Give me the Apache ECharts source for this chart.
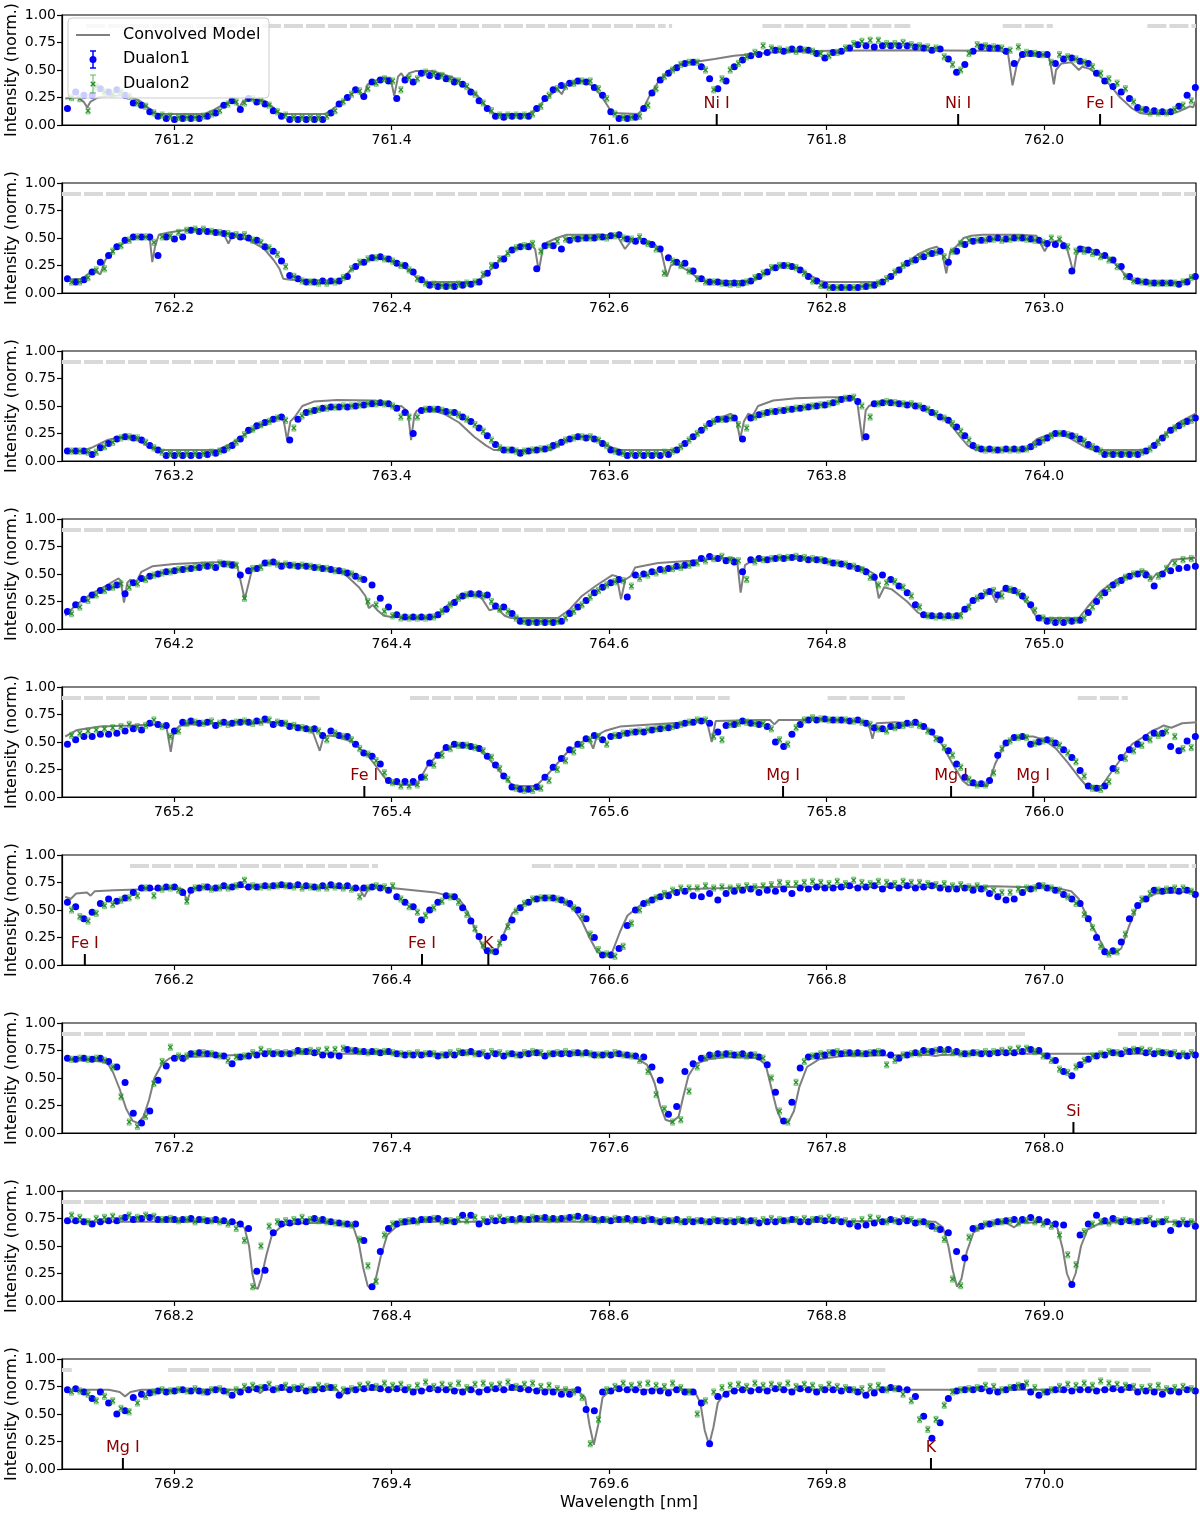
<!DOCTYPE html>
<html><head><meta charset="utf-8">
<script src="https://cdn.jsdelivr.net/npm/echarts@6/dist/echarts.min.js"></script>
<style>html,body{margin:0;padding:0;background:#fff}#c{width:1200px;height:1514px}</style>
</head><body><div id="c"></div>
<script>
// ---------- DATA ----------
// panel start wavelengths (nm)
const panelStart = [761.1, 762.1, 763.1, 764.1, 765.1, 766.1, 767.1, 768.1, 769.1];
// tick labels per panel
const xTicks = [
  [761.2,761.4,761.6,761.8,762.0],[762.2,762.4,762.6,762.8,763.0],[763.2,763.4,763.6,763.8,764.0],
  [764.2,764.4,764.6,764.8,765.0],[765.2,765.4,765.6,765.8,766.0],[766.2,766.4,766.6,766.8,767.0],
  [767.2,767.4,767.6,767.8,768.0],[768.2,768.4,768.6,768.8,769.0],[769.2,769.4,769.6,769.8,770.0]
];
const yTicks = [0, 0.25, 0.5, 0.75, 1.0];
// pixel grid of the spectra: first sample offset from panel start and sampling step (nm)
const SAMPLE_START = 0.002, SAMPLE_STEP = 0.00757, DUALON2_SHIFT = 0.0038;
const DUALON2_ERR = 0.028;   // typical 1-sigma of Dualon2 (normalized intensity)
const MASK_LEVEL = 0.9;

// Dualon1 intensities (percent), one array per panel
const d1_761 = [15,30,27,27,33,30,32,27,20,18,12,8,6,5,6,6,6,8,11,18,22,14,24,21,19,13,8,5,5,5,5,5,11,19,25,32,26,39,41,40,24,41,39,47,45,44,42,39,37,30,22,15,8,7,8,8,8,15,24,32,36,38,40,39,34,27,12,6,6,7,15,29,41,47,52,56,57,53,42,33,40,53,59,63,64,66,68,67,69,69,68,65,61,66,67,70,73,72,71,72,72,72,72,71,70,68,69,60,48,55,67,71,70,70,67,56,64,65,64,64,56,60,61,58,56,47,40,35,30,24,16,14,13,12,12,17,27,34];
const d1_762 = [13,10,12,19,28,34,42,48,51,51,51,34,51,49,51,57,56,56,55,54,52,51,50,48,42,38,29,16,13,10,10,11,11,11,15,24,28,32,33,31,27,25,19,12,7,6,6,6,7,8,10,18,25,31,39,42,42,22,43,43,40,48,49,50,50,51,52,53,49,47,47,44,40,32,28,27,20,13,10,10,9,9,9,11,15,19,23,25,24,21,15,11,7,5,5,5,5,6,7,10,15,21,27,30,33,36,38,28,38,44,47,48,49,50,49,50,50,49,48,45,44,43,20,40,39,37,34,30,24,15,11,10,9,9,9,8,10,15];
const d1_763 = [9,9,9,6,12,16,20,22,21,19,14,10,5,5,5,5,5,6,7,10,14,20,28,32,35,38,40,19,38,44,46,48,49,49,49,50,51,52,53,52,48,44,25,46,47,47,45,44,40,36,30,23,15,10,10,7,9,10,11,14,17,20,22,21,20,16,10,8,5,5,5,5,5,6,10,16,22,28,34,38,38,39,20,39,42,44,45,46,47,48,49,50,51,53,56,57,54,22,52,53,53,52,51,50,48,44,40,37,31,23,14,11,11,10,11,11,11,13,17,21,25,25,23,20,15,11,6,6,6,6,6,9,14,21,28,32,36,39];
const d1_764 = [16,22,27,31,35,38,40,32,42,46,48,50,52,53,54,55,56,57,56,59,58,49,53,55,60,61,57,58,57,57,56,55,54,53,51,48,45,40,28,20,13,11,11,11,11,13,18,24,30,32,32,31,21,20,14,7,6,6,6,6,7,14,20,26,33,38,42,45,29,49,50,52,54,55,57,58,60,64,66,64,62,61,52,63,64,63,64,64,65,64,63,63,62,60,59,57,55,52,47,49,45,39,33,22,13,12,12,12,12,18,26,30,34,31,37,35,30,22,10,7,6,6,7,8,15,25,33,40,44,48,50,49,39,50,53,55,56,57];
const d1_765 = [48,52,55,55,57,57,58,60,62,61,67,66,65,60,68,69,67,68,65,68,67,68,68,69,71,66,67,64,63,62,62,56,60,56,55,48,40,37,30,15,14,14,14,18,31,38,45,48,47,46,44,37,29,19,9,7,7,9,18,27,35,43,48,53,56,52,55,56,58,59,59,61,62,63,65,67,68,69,67,59,65,66,69,67,66,64,50,46,57,66,70,70,71,70,70,69,70,67,63,62,64,65,67,68,64,59,52,42,30,18,13,12,15,38,49,54,55,48,50,52,49,43,36,24,10,8,10,26,36,43,48,54,58,58,46,42,51,55];
const d1_766 = [57,53,42,48,56,60,58,61,66,70,70,70,71,71,66,68,70,71,70,72,71,73,71,71,72,72,73,72,73,72,71,72,73,72,72,70,70,71,70,68,62,57,53,41,50,57,63,62,52,40,26,13,12,25,41,52,57,60,61,61,59,56,50,42,25,9,9,15,36,50,56,59,62,63,66,67,63,62,65,59,65,67,68,69,66,68,67,69,65,70,69,71,70,70,71,72,70,71,72,69,72,70,72,70,71,72,70,69,69,70,68,69,65,62,59,60,66,69,72,70,68,64,60,56,42,25,12,13,21,42,54,60,68,67,68,67,68,64];
const d1_767 = [68,67,68,67,68,65,60,46,18,9,20,48,61,68,68,72,73,72,71,70,63,69,70,71,72,72,72,72,75,74,73,71,71,70,76,75,74,74,73,74,72,71,71,71,72,70,71,71,73,74,72,70,72,70,72,71,72,73,70,72,72,72,73,73,71,71,71,72,71,70,69,60,48,17,24,56,63,68,71,72,72,71,72,71,69,62,37,11,28,59,69,70,71,73,72,73,73,72,73,73,71,68,71,73,75,74,76,76,74,72,73,72,72,73,73,73,74,76,75,70,66,56,52,62,67,70,71,73,72,74,75,73,72,73,72,70,70,71];
const d1_768 = [73,73,72,70,72,73,73,76,74,75,76,74,74,74,74,75,74,73,74,73,72,70,66,27,28,62,70,71,72,72,75,74,72,71,70,70,55,13,45,66,70,72,73,74,74,75,73,72,78,78,70,72,73,73,74,75,74,75,76,75,75,76,77,76,74,74,73,74,75,74,73,74,72,73,74,72,72,73,72,73,72,72,73,73,71,72,72,73,74,72,72,74,73,73,72,70,68,69,71,72,74,72,73,71,72,68,65,62,45,39,66,68,70,72,73,74,74,76,74,72,70,69,15,60,70,78,73,75,72,73,72,73,70,72,64,70,70,68];
const d1_769 = [72,73,70,64,70,60,50,53,65,68,69,71,70,71,72,71,71,70,72,71,67,70,72,73,74,72,74,72,73,71,72,73,74,67,71,72,73,74,73,72,73,72,70,71,73,72,72,71,70,72,70,72,73,72,74,73,72,71,70,70,68,68,72,54,53,70,71,73,72,72,70,71,71,69,72,70,70,60,23,66,68,71,72,71,72,71,73,72,70,73,72,70,72,72,71,72,70,67,69,72,74,73,72,66,48,28,42,64,71,72,72,73,71,70,72,74,75,70,67,70,72,72,71,72,72,71,72,73,72,74,70,71,70,68,71,70,72,71];

// Dualon2 intensities (percent)
const d2_761 = [25,24,13,35,30,28,30,26,20,17,11,9,8,7,7,7,8,10,13,19,21,20,24,22,18,12,9,7,7,7,7,8,13,21,28,31,33,38,42,40,32,43,42,48,47,45,42,40,35,28,20,13,9,9,9,9,10,17,27,33,35,38,40,40,33,24,10,7,7,8,18,33,44,50,55,57,57,50,32,42,50,56,62,66,72,70,69,68,67,68,67,65,63,66,70,74,76,77,77,74,74,75,73,72,71,70,62,55,50,65,73,72,71,70,68,71,66,65,64,57,64,62,60,57,53,47,42,38,33,21,14,11,11,11,14,18,22,30];
const d2_762 = [10,10,14,21,22,38,43,48,51,51,46,51,52,55,57,58,58,56,55,54,53,53,48,46,41,35,24,15,11,10,9,9,10,14,22,28,31,32,31,29,25,21,13,9,8,7,7,8,9,10,17,25,31,36,41,43,45,38,44,47,49,50,50,50,51,50,52,50,49,51,45,40,18,29,25,20,13,10,10,9,8,8,10,14,18,23,25,25,23,18,11,7,5,5,5,5,6,7,9,13,19,25,29,33,36,37,33,38,45,48,48,48,49,48,49,50,49,48,46,50,49,42,38,38,36,33,30,24,15,11,10,9,9,9,9,10,14,17];
const d2_763 = [9,9,8,8,13,17,21,22,21,17,12,8,7,7,7,7,7,8,9,12,17,24,29,33,36,39,37,30,41,45,47,48,49,50,50,51,52,52,52,50,40,40,40,47,47,46,44,42,38,33,27,19,12,10,9,9,10,11,12,15,19,21,22,22,19,14,9,7,7,7,7,7,8,9,13,19,25,31,36,38,39,33,30,40,43,45,46,47,48,49,50,51,52,54,57,58,50,40,52,54,53,52,52,50,47,43,39,34,27,19,12,10,10,10,10,10,11,15,19,23,25,24,22,18,13,9,7,7,7,7,8,11,17,24,30,34,37,40];
const d2_764 = [14,20,26,31,35,38,41,38,41,45,49,51,52,54,55,56,58,58,60,59,58,28,55,56,60,59,59,58,58,57,56,55,53,52,50,46,25,22,16,12,10,10,10,10,11,16,22,28,31,31,30,25,18,16,10,7,7,7,7,7,10,16,22,29,35,40,43,44,39,46,49,51,53,55,56,58,60,62,64,66,63,62,45,61,63,64,65,65,66,65,64,63,61,60,59,57,54,47,40,42,43,38,30,20,12,11,11,11,12,20,28,33,35,30,36,33,27,17,10,8,8,8,8,10,20,30,37,42,47,50,52,46,48,55,60,63,64,65];
const d2_765 = [56,58,60,61,62,63,64,66,64,65,70,64,55,60,67,68,67,69,67,66,68,69,67,68,70,68,67,65,63,61,60,52,58,55,52,44,39,33,22,13,10,10,11,18,29,38,44,47,47,45,42,36,26,16,8,6,6,8,15,25,33,41,47,52,55,48,56,58,59,60,61,62,63,64,66,68,70,70,55,52,66,67,68,67,67,62,52,48,63,70,72,71,70,70,70,69,68,66,62,60,63,65,66,65,60,53,45,38,27,16,11,11,22,44,51,54,54,49,51,51,47,40,32,19,8,7,14,24,35,42,47,52,56,60,55,44,45,50];
const d2_766 = [50,44,40,47,54,55,59,61,63,70,63,69,70,68,58,70,71,69,70,70,72,77,72,71,71,72,72,71,70,71,70,70,71,70,69,62,70,72,71,72,60,53,48,45,52,58,62,57,46,33,18,13,20,35,49,56,60,61,61,60,57,52,44,28,14,10,8,17,38,50,57,61,65,68,70,70,70,72,70,71,70,71,72,71,72,73,75,74,74,75,76,75,74,76,74,77,75,74,76,75,74,76,75,75,74,73,74,72,73,71,72,70,68,66,66,69,70,70,72,70,68,62,56,46,34,17,10,12,28,48,60,65,68,69,70,70,67,66];
const d2_767 = [67,68,67,68,66,60,33,10,6,15,45,65,78,70,70,72,73,72,70,66,69,70,73,76,74,73,73,73,74,75,75,76,76,77,75,74,73,74,74,73,72,72,73,72,72,71,73,74,73,72,73,74,73,72,71,73,74,73,72,73,74,73,72,72,71,72,73,71,70,66,56,35,22,10,12,38,60,68,70,71,72,71,70,71,68,50,20,10,46,65,70,72,73,74,73,72,72,73,74,62,66,71,72,72,74,75,74,73,72,72,73,74,74,75,76,77,77,74,70,66,58,55,60,66,70,72,74,73,75,76,76,75,74,73,73,72,73,74];
const d2_768 = [78,76,72,75,76,77,75,78,76,78,77,74,75,73,74,72,74,73,72,70,66,55,13,50,68,72,73,74,76,74,73,72,71,70,69,56,32,18,60,70,72,73,72,74,75,72,73,74,73,76,74,75,76,74,73,74,76,75,74,74,75,76,74,75,73,74,75,74,73,74,75,73,74,73,72,74,73,72,74,73,73,74,72,73,74,75,74,73,74,75,74,75,76,74,73,72,74,76,75,72,73,75,74,72,70,66,56,20,14,58,66,70,71,72,73,71,73,72,70,68,60,42,33,63,70,72,71,73,74,72,73,75,72,74,71,73,72,70];
const d2_769 = [70,71,68,62,66,62,55,52,60,66,70,72,71,72,71,73,70,72,73,70,72,75,76,74,77,73,76,74,75,72,76,75,74,72,73,76,77,75,78,76,77,74,76,79,75,77,76,78,74,77,78,76,77,79,75,77,78,75,76,73,72,70,65,23,45,72,75,78,76,77,78,76,75,78,74,70,50,62,70,74,76,77,75,78,76,77,76,78,75,77,76,74,77,75,74,72,73,75,76,72,73,68,62,45,36,45,58,70,72,73,74,76,75,72,74,76,78,74,70,72,75,77,76,78,76,80,78,77,76,75,74,75,76,73,74,75,73,75];

// Convolved model: [offset from panel start (nm), intensity]
const m_761 = [[0,0.24],[0.012,0.25],[0.017,0.21],[0.0202,0.16],[0.023,0.21],[0.03,0.25],[0.05,0.27],[0.062,0.25],[0.07,0.21],[0.076,0.16],[0.081,0.115],[0.085,0.1],[0.128,0.1],[0.137,0.14],[0.146,0.19],[0.153,0.22],[0.157,0.2],[0.16,0.16],[0.163,0.21],[0.167,0.23],[0.172,0.235],[0.183,0.22],[0.19,0.17],[0.195,0.12],[0.199,0.1],[0.239,0.1],[0.244,0.13],[0.253,0.2],[0.26,0.26],[0.269,0.32],[0.2736,0.24],[0.278,0.37],[0.287,0.41],[0.292,0.43],[0.299,0.43],[0.3025,0.265],[0.306,0.44],[0.309,0.47],[0.312,0.42],[0.316,0.47],[0.322,0.49],[0.338,0.49],[0.348,0.46],[0.359,0.42],[0.369,0.35],[0.378,0.28],[0.385,0.19],[0.39,0.13],[0.395,0.1],[0.4256,0.1],[0.433,0.14],[0.44,0.22],[0.447,0.28],[0.452,0.33],[0.4565,0.28],[0.461,0.37],[0.468,0.4],[0.475,0.4],[0.484,0.36],[0.4917,0.28],[0.499,0.17],[0.5025,0.11],[0.504,0.1],[0.527,0.1],[0.532,0.16],[0.537,0.26],[0.5445,0.38],[0.553,0.48],[0.562,0.54],[0.573,0.57],[0.58,0.575],[0.597,0.6],[0.615,0.63],[0.633,0.645],[0.65,0.66],[0.668,0.665],[0.703,0.675],[0.773,0.68],[0.844,0.675],[0.861,0.67],[0.867,0.64],[0.871,0.36],[0.875,0.55],[0.879,0.63],[0.904,0.63],[0.906,0.55],[0.909,0.37],[0.911,0.5],[0.916,0.56],[0.925,0.57],[0.932,0.5],[0.935,0.53],[0.942,0.51],[0.949,0.46],[0.96,0.37],[0.97,0.25],[0.981,0.15],[0.988,0.11],[0.994,0.1],[1.016,0.1],[1.023,0.12],[1.03,0.15],[1.034,0.17],[1.037,0.16],[1.042,0.28]];
const m_762 = [[0,0.12],[0.0157,0.13],[0.0245,0.2],[0.029,0.19],[0.0322,0.17],[0.0368,0.3],[0.0456,0.4],[0.053,0.45],[0.063,0.5],[0.0755,0.51],[0.078,0.47],[0.08,0.28],[0.0825,0.42],[0.086,0.53],[0.095,0.55],[0.109,0.57],[0.123,0.57],[0.137,0.55],[0.146,0.53],[0.148,0.49],[0.15,0.45],[0.1525,0.5],[0.1546,0.52],[0.169,0.48],[0.183,0.4],[0.1916,0.3],[0.197,0.22],[0.2004,0.13],[0.207,0.12],[0.2496,0.11],[0.2567,0.15],[0.2637,0.22],[0.2743,0.28],[0.2866,0.32],[0.2954,0.31],[0.3095,0.25],[0.32,0.17],[0.325,0.12],[0.327,0.1],[0.378,0.1],[0.387,0.17],[0.397,0.27],[0.408,0.37],[0.4185,0.42],[0.4273,0.45],[0.432,0.4],[0.4354,0.2],[0.439,0.4],[0.443,0.46],[0.452,0.5],[0.461,0.53],[0.4917,0.53],[0.5075,0.52],[0.5146,0.4],[0.52,0.47],[0.527,0.5],[0.541,0.45],[0.548,0.38],[0.5533,0.15],[0.5568,0.25],[0.562,0.27],[0.5726,0.2],[0.5814,0.14],[0.5867,0.11],[0.6324,0.11],[0.6395,0.16],[0.65,0.22],[0.6606,0.25],[0.671,0.24],[0.6835,0.17],[0.694,0.11],[0.6993,0.1],[0.7503,0.1],[0.759,0.15],[0.7697,0.25],[0.7838,0.35],[0.7943,0.4],[0.8013,0.42],[0.806,0.38],[0.8101,0.18],[0.8137,0.38],[0.819,0.42],[0.826,0.5],[0.833,0.52],[0.8436,0.53],[0.8787,0.53],[0.893,0.52],[0.9006,0.38],[0.905,0.46],[0.914,0.48],[0.92,0.44],[0.924,0.3],[0.927,0.18],[0.9298,0.35],[0.935,0.42],[0.9456,0.39],[0.9597,0.32],[0.9702,0.22],[0.9773,0.13],[0.9826,0.11],[1.0265,0.1],[1.035,0.14],[1.041,0.18]];
const m_763 = [[0,0.09],[0.017,0.095],[0.024,0.12],[0.0385,0.19],[0.0526,0.22],[0.0666,0.19],[0.077,0.13],[0.084,0.1],[0.14,0.1],[0.151,0.15],[0.165,0.24],[0.179,0.31],[0.19,0.38],[0.197,0.41],[0.201,0.36],[0.204,0.19],[0.207,0.36],[0.211,0.4],[0.218,0.5],[0.2285,0.54],[0.25,0.555],[0.285,0.55],[0.295,0.53],[0.302,0.49],[0.309,0.5],[0.315,0.45],[0.318,0.19],[0.321,0.42],[0.3235,0.46],[0.334,0.47],[0.348,0.43],[0.362,0.35],[0.376,0.22],[0.387,0.14],[0.394,0.1],[0.447,0.1],[0.457,0.16],[0.471,0.22],[0.482,0.22],[0.4925,0.18],[0.503,0.12],[0.51,0.1],[0.559,0.1],[0.566,0.13],[0.577,0.22],[0.587,0.3],[0.601,0.39],[0.612,0.43],[0.617,0.38],[0.6205,0.2],[0.624,0.36],[0.628,0.43],[0.632,0.41],[0.637,0.5],[0.651,0.55],[0.672,0.57],[0.7,0.58],[0.721,0.58],[0.728,0.55],[0.733,0.18],[0.736,0.46],[0.739,0.5],[0.749,0.54],[0.77,0.52],[0.792,0.48],[0.8125,0.35],[0.823,0.22],[0.83,0.14],[0.837,0.1],[0.883,0.1],[0.8935,0.2],[0.9075,0.25],[0.918,0.24],[0.9285,0.18],[0.939,0.12],[0.946,0.1],[0.995,0.1],[1.006,0.2],[1.024,0.35],[1.043,0.45]];
const m_764 = [[0,0.12],[0.01,0.22],[0.024,0.32],[0.0385,0.4],[0.049,0.46],[0.051,0.44],[0.054,0.24],[0.057,0.42],[0.06,0.45],[0.063,0.4],[0.066,0.44],[0.07,0.52],[0.08,0.57],[0.1,0.59],[0.13,0.605],[0.155,0.61],[0.158,0.58],[0.165,0.27],[0.172,0.55],[0.18,0.58],[0.19,0.6],[0.207,0.59],[0.235,0.56],[0.257,0.5],[0.27,0.38],[0.276,0.3],[0.279,0.19],[0.283,0.22],[0.287,0.17],[0.293,0.12],[0.3,0.11],[0.34,0.11],[0.352,0.22],[0.362,0.29],[0.375,0.31],[0.383,0.28],[0.39,0.17],[0.397,0.19],[0.404,0.12],[0.41,0.1],[0.453,0.1],[0.464,0.18],[0.475,0.3],[0.489,0.4],[0.503,0.49],[0.507,0.48],[0.511,0.27],[0.515,0.45],[0.52,0.48],[0.524,0.56],[0.545,0.6],[0.575,0.62],[0.6,0.64],[0.615,0.645],[0.618,0.6],[0.621,0.33],[0.625,0.58],[0.633,0.63],[0.66,0.645],[0.685,0.63],[0.71,0.6],[0.735,0.55],[0.744,0.5],[0.748,0.28],[0.753,0.38],[0.76,0.36],[0.764,0.33],[0.774,0.25],[0.784,0.15],[0.791,0.11],[0.82,0.11],[0.834,0.25],[0.848,0.34],[0.852,0.32],[0.856,0.24],[0.86,0.34],[0.862,0.35],[0.876,0.32],[0.886,0.22],[0.893,0.11],[0.897,0.1],[0.932,0.1],[0.94,0.2],[0.953,0.35],[0.967,0.45],[0.981,0.5],[0.992,0.53],[0.995,0.52],[0.999,0.45],[1.003,0.5],[1.01,0.52],[1.018,0.63],[1.042,0.65]];
const m_765 = [[0,0.55],[0.011,0.61],[0.032,0.64],[0.06,0.65],[0.085,0.66],[0.093,0.64],[0.097,0.41],[0.1,0.6],[0.105,0.645],[0.115,0.66],[0.151,0.68],[0.186,0.68],[0.207,0.665],[0.22,0.63],[0.228,0.58],[0.231,0.5],[0.234,0.42],[0.237,0.53],[0.242,0.56],[0.25,0.55],[0.264,0.5],[0.278,0.38],[0.288,0.25],[0.295,0.16],[0.302,0.12],[0.31,0.11],[0.323,0.11],[0.334,0.3],[0.348,0.43],[0.359,0.47],[0.373,0.47],[0.383,0.41],[0.394,0.3],[0.404,0.18],[0.411,0.11],[0.418,0.1],[0.433,0.1],[0.443,0.2],[0.461,0.4],[0.475,0.5],[0.481,0.54],[0.4854,0.44],[0.489,0.56],[0.496,0.6],[0.503,0.62],[0.51,0.64],[0.538,0.66],[0.573,0.68],[0.59,0.69],[0.5944,0.5],[0.598,0.69],[0.637,0.7],[0.648,0.7],[0.652,0.66],[0.656,0.7],[0.686,0.7],[0.714,0.695],[0.738,0.69],[0.7422,0.53],[0.746,0.67],[0.763,0.68],[0.777,0.67],[0.792,0.63],[0.806,0.48],[0.816,0.3],[0.825,0.15],[0.83,0.11],[0.848,0.1],[0.855,0.3],[0.865,0.5],[0.876,0.55],[0.89,0.55],[0.9,0.52],[0.911,0.44],[0.922,0.31],[0.932,0.18],[0.939,0.1],[0.953,0.1],[0.96,0.2],[0.971,0.35],[0.981,0.48],[0.992,0.55],[0.999,0.6],[1.004,0.62],[1.01,0.65],[1.017,0.63],[1.027,0.67],[1.042,0.68]];
const m_766 = [[0,0.62],[0.005,0.6],[0.01,0.65],[0.02,0.66],[0.0233,0.63],[0.027,0.67],[0.045,0.68],[0.08,0.69],[0.1,0.7],[0.108,0.69],[0.112,0.58],[0.116,0.69],[0.125,0.7],[0.15,0.71],[0.22,0.71],[0.27,0.7],[0.275,0.62],[0.279,0.7],[0.3,0.7],[0.32,0.68],[0.34,0.66],[0.348,0.64],[0.362,0.6],[0.366,0.55],[0.373,0.42],[0.38,0.25],[0.385,0.14],[0.39,0.11],[0.397,0.13],[0.404,0.3],[0.411,0.47],[0.422,0.56],[0.433,0.61],[0.447,0.61],[0.457,0.58],[0.468,0.5],[0.475,0.4],[0.482,0.25],[0.489,0.12],[0.496,0.08],[0.503,0.12],[0.51,0.3],[0.517,0.45],[0.531,0.56],[0.545,0.63],[0.559,0.67],[0.573,0.69],[0.609,0.7],[0.644,0.71],[0.74,0.71],[0.8,0.71],[0.855,0.715],[0.911,0.7],[0.925,0.67],[0.932,0.6],[0.939,0.45],[0.95,0.25],[0.957,0.12],[0.964,0.1],[0.971,0.15],[0.978,0.35],[0.985,0.52],[0.992,0.6],[1.003,0.65],[1.042,0.67]];
const m_767 = [[0,0.67],[0.0246,0.66],[0.0385,0.64],[0.044,0.55],[0.05,0.4],[0.056,0.22],[0.062,0.11],[0.067,0.09],[0.072,0.15],[0.077,0.3],[0.082,0.5],[0.089,0.63],[0.096,0.68],[0.105,0.69],[0.109,0.65],[0.113,0.69],[0.137,0.7],[0.158,0.71],[0.164,0.69],[0.168,0.72],[0.29,0.72],[0.5,0.71],[0.524,0.69],[0.535,0.62],[0.542,0.45],[0.547,0.25],[0.552,0.12],[0.558,0.1],[0.564,0.15],[0.568,0.32],[0.573,0.52],[0.58,0.63],[0.591,0.67],[0.608,0.69],[0.637,0.68],[0.644,0.62],[0.649,0.42],[0.654,0.22],[0.659,0.1],[0.665,0.1],[0.67,0.2],[0.675,0.42],[0.682,0.6],[0.693,0.67],[0.714,0.7],[0.78,0.71],[0.794,0.71],[0.8,0.7],[0.805,0.71],[0.855,0.72],[1.042,0.72]];
const m_768 = [[0,0.72],[0.14,0.72],[0.16,0.71],[0.165,0.66],[0.169,0.5],[0.172,0.25],[0.175,0.12],[0.177,0.11],[0.18,0.2],[0.185,0.42],[0.19,0.6],[0.2,0.69],[0.22,0.71],[0.255,0.71],[0.265,0.67],[0.27,0.52],[0.274,0.3],[0.278,0.14],[0.281,0.11],[0.285,0.18],[0.29,0.4],[0.296,0.6],[0.306,0.69],[0.33,0.72],[0.7,0.72],[0.76,0.73],[0.8,0.72],[0.807,0.67],[0.812,0.5],[0.816,0.28],[0.82,0.13],[0.824,0.2],[0.829,0.45],[0.835,0.62],[0.845,0.69],[0.865,0.71],[0.8725,0.67],[0.878,0.71],[0.905,0.72],[0.912,0.67],[0.917,0.48],[0.921,0.25],[0.925,0.15],[0.929,0.25],[0.934,0.5],[0.94,0.65],[0.95,0.7],[0.97,0.72],[1.042,0.72]];
const m_769 = [[0,0.72],[0.04,0.72],[0.05,0.7],[0.055,0.66],[0.06,0.7],[0.07,0.72],[0.175,0.72],[0.179,0.69],[0.183,0.72],[0.25,0.72],[0.254,0.66],[0.258,0.72],[0.375,0.72],[0.379,0.69],[0.383,0.72],[0.47,0.72],[0.478,0.65],[0.482,0.4],[0.486,0.22],[0.49,0.4],[0.494,0.65],[0.502,0.72],[0.578,0.72],[0.584,0.6],[0.588,0.35],[0.592,0.22],[0.596,0.38],[0.6,0.6],[0.607,0.7],[0.62,0.72],[0.73,0.72],[0.735,0.67],[0.74,0.72],[0.91,0.72],[0.915,0.7],[0.92,0.72],[1.042,0.72]];

// telluric-mask intervals [from, to] as offsets from the panel start (nm)
const mask_761 = [[0.019,0.552],[0.555,0.558],[0.641,0.777],[0.862,0.908],[0.995,1.045]];
const mask_762 = [[-0.003,1.045]];
const mask_763 = [[-0.003,1.045]];
const mask_764 = [[-0.003,1.045]];
const mask_765 = [[-0.003,0.234],[0.317,0.611],[0.701,0.772],[0.931,0.977]];
const mask_766 = [[0.0595,0.2876],[0.429,1.045]];
const mask_767 = [[-0.003,0.8825],[0.968,1.045]];
const mask_768 = [[-0.003,1.011]];
const mask_769 = [[-0.003,0.006],[0.0945,0.754],[0.839,0.999]];

// identified stellar lines
const lines_761 = [[761.699,'Ni I'],[761.921,'Ni I'],[762.0515,'Fe I']];
const lines_765 = [[765.375,'Fe I'],[765.76,'Mg I'],[765.9145,'Mg I'],[765.99,'Mg I']];
const lines_766 = [[766.118,'Fe I'],[766.428,'Fe I'],[766.489,'K']];
const lines_767 = [[768.027,'Si']];
const lines_769 = [[769.153,'Mg I'],[769.896,'K']];

const dualon1 = [d1_761,d1_762,d1_763,d1_764,d1_765,d1_766,d1_767,d1_768,d1_769];
const dualon2 = [d2_761,d2_762,d2_763,d2_764,d2_765,d2_766,d2_767,d2_768,d2_769];
const models = [m_761,m_762,m_763,m_764,m_765,m_766,m_767,m_768,m_769];
const masks = [mask_761,mask_762,mask_763,mask_764,mask_765,mask_766,mask_767,mask_768,mask_769];
const lineIds = [lines_761,[],[],[],lines_765,lines_766,lines_767,[],lines_769];

// ---------- CHART ----------
const FONT = 'DejaVu Sans';
const chart = echarts.init(document.getElementById('c'), null, {renderer: 'canvas'});
const grids = [], xAxes = [], yAxes = [], series = [];
const TOP0 = 15, STEP = 168, H = 110, LEFT = 62, W = 1134;

for (let k = 0; k < 9; k++) {
  const base = panelStart[k];
  grids.push({left: LEFT, top: TOP0 + STEP * k, width: W, height: H, show: true,
    borderColor: '#000', borderWidth: 1.2, backgroundColor: 'transparent',
    containLabel: false, outerBoundsMode: 'none'});
  xAxes.push({type: 'value', gridIndex: k, min: base - 0.003, max: base + 1.0397,
    axisLine: {show: true, onZero: false, lineStyle: {color: '#000', width: 1.2}},
    axisTick: {show: true, inside: false, length: 5, lineStyle: {color: '#000', width: 1.2}, customValues: xTicks[k]},
    axisLabel: {show: true, customValues: xTicks[k], color: '#000', fontSize: 14, fontFamily: FONT, margin: 8,
      formatter: v => Number(v).toFixed(1)},
    splitLine: {show: false},
    name: k === 8 ? 'Wavelength [nm]' : '', nameLocation: 'middle', nameGap: 26, nameMoveOverlap: false,
    nameTextStyle: {fontSize: 16, color: '#000', fontFamily: FONT}
  });
  yAxes.push({type: 'value', gridIndex: k, min: yTicks[0], max: yTicks[yTicks.length - 1], interval: 0.25,
    axisLine: {show: true, lineStyle: {color: '#000', width: 1.2}},
    axisTick: {show: true, inside: false, length: 5, lineStyle: {color: '#000', width: 1.2}},
    axisLabel: {color: '#000', fontSize: 14, fontFamily: FONT, margin: 6, formatter: v => v.toFixed(2)},
    splitLine: {show: false},
    name: 'Intensity (norm.)', nameLocation: 'middle', nameRotate: 90, nameGap: 42, nameMoveOverlap: false,
    nameTextStyle: {fontSize: 16, color: '#000', fontFamily: FONT}
  });

  // mask
  series.push({type: 'custom', xAxisIndex: k, yAxisIndex: k, z: 1, silent: true, clip: true,
    data: masks[k].map(s => [base + s[0], base + s[1], MASK_LEVEL]),
    encode: {x: [0, 1], y: 2},
    renderItem: function (params, api) {
      const p0 = api.coord([api.value(0), api.value(2)]);
      const p1 = api.coord([api.value(1), api.value(2)]);
      return {type: 'line', shape: {x1: p0[0], y1: p0[1], x2: p1[0], y2: p1[1]},
        style: {stroke: '#d9d9d9', lineWidth: 4, lineDash: [19, 3]}};
    }
  });
  // model
  series.push({type: 'line', xAxisIndex: k, yAxisIndex: k, z: 2, silent: true,
    data: models[k].map(p => [base + p[0], p[1]]), showSymbol: false, symbol: 'none',
    lineStyle: {color: '#7f7f7f', width: 2}, clip: true, animation: false});
  // Dualon1
  series.push({type: 'scatter', xAxisIndex: k, yAxisIndex: k, z: 3, silent: true,
    data: dualon1[k].map((v, i) => [base + SAMPLE_START + i * SAMPLE_STEP, v / 100]),
    symbol: 'circle', symbolSize: 7, itemStyle: {color: '#0000ff', opacity: 1}, clip: true});
  // Dualon2
  series.push({type: 'custom', xAxisIndex: k, yAxisIndex: k, z: 4, silent: true, clip: true,
    data: dualon2[k].map((v, i) => [base + SAMPLE_START + DUALON2_SHIFT + i * SAMPLE_STEP, v / 100]),
    encode: {x: 0, y: 1},
    renderItem: function (params, api) {
      const x = api.value(0), y = api.value(1);
      const c = api.coord([x, y]);
      const t = api.coord([x, y + DUALON2_ERR]);
      const b = api.coord([x, y - DUALON2_ERR]);
      const cap = 2.5, m = 2.2;
      const bar = {stroke: 'rgba(60,170,60,0.55)', lineWidth: 1.2};
      const mk = {stroke: 'rgba(34,139,34,0.9)', lineWidth: 1.4};
      return {type: 'group', children: [
        {type: 'line', shape: {x1: c[0], y1: t[1], x2: c[0], y2: b[1]}, style: bar},
        {type: 'line', shape: {x1: c[0] - cap, y1: t[1], x2: c[0] + cap, y2: t[1]}, style: bar},
        {type: 'line', shape: {x1: c[0] - cap, y1: b[1], x2: c[0] + cap, y2: b[1]}, style: bar},
        {type: 'line', shape: {x1: c[0] - m, y1: c[1] - m, x2: c[0] + m, y2: c[1] + m}, style: mk},
        {type: 'line', shape: {x1: c[0] - m, y1: c[1] + m, x2: c[0] + m, y2: c[1] - m}, style: mk}
      ]};
    }
  });
  // line identifications
  if (lineIds[k].length) {
    const ids = lineIds[k];
    series.push({type: 'custom', xAxisIndex: k, yAxisIndex: k, z: 6, silent: true, clip: false,
      data: ids.map(d => [d[0], 0]), encode: {x: 0, y: 1},
      renderItem: function (params, api) {
        const x = api.value(0);
        const p0 = api.coord([x, 0]), p1 = api.coord([x, 0.1]);
        return {type: 'group', children: [
          {type: 'line', shape: {x1: p0[0], y1: p0[1], x2: p0[0], y2: p1[1]}, style: {stroke: '#000', lineWidth: 2}},
          {type: 'text', x: p0[0], y: p1[1] - 2, style: {text: ids[params.dataIndex][1], fill: '#8b0000',
            fontSize: 16, fontFamily: FONT, align: 'center', verticalAlign: 'bottom'}}
        ]};
      }
    });
  }
}

// legend (first panel)
const legendGraphic = [
  {type: 'rect', z: 100, shape: {x: 68, y: 18, width: 201, height: 80, r: 4},
    style: {fill: 'rgba(255,255,255,0.8)', stroke: '#cccccc', lineWidth: 1}},
  {type: 'line', z: 101, shape: {x1: 76, y1: 35, x2: 110, y2: 35}, style: {stroke: '#7f7f7f', lineWidth: 2}},
  {type: 'line', z: 101, shape: {x1: 93, y1: 51, x2: 93, y2: 68}, style: {stroke: '#0000ff', lineWidth: 1.5}},
  {type: 'line', z: 101, shape: {x1: 90, y1: 51, x2: 96, y2: 51}, style: {stroke: '#0000ff', lineWidth: 1.5}},
  {type: 'line', z: 101, shape: {x1: 90, y1: 68, x2: 96, y2: 68}, style: {stroke: '#0000ff', lineWidth: 1.5}},
  {type: 'circle', z: 102, shape: {cx: 93, cy: 59.5, r: 3.5}, style: {fill: '#0000ff'}},
  {type: 'line', z: 101, shape: {x1: 93, y1: 75, x2: 93, y2: 93}, style: {stroke: 'rgba(60,170,60,0.6)', lineWidth: 1.4}},
  {type: 'line', z: 101, shape: {x1: 90, y1: 75, x2: 96, y2: 75}, style: {stroke: 'rgba(60,170,60,0.6)', lineWidth: 1.4}},
  {type: 'line', z: 101, shape: {x1: 90, y1: 93, x2: 96, y2: 93}, style: {stroke: 'rgba(60,170,60,0.6)', lineWidth: 1.4}},
  {type: 'line', z: 102, shape: {x1: 90.8, y1: 81.8, x2: 95.2, y2: 86.2}, style: {stroke: '#228b22', lineWidth: 1.4}},
  {type: 'line', z: 102, shape: {x1: 90.8, y1: 86.2, x2: 95.2, y2: 81.8}, style: {stroke: '#228b22', lineWidth: 1.4}},
  {type: 'text', z: 102, x: 123, y: 35, style: {text: 'Convolved Model', fill: '#000', fontSize: 16, fontFamily: FONT, verticalAlign: 'middle'}},
  {type: 'text', z: 102, x: 123, y: 59, style: {text: 'Dualon1', fill: '#000', fontSize: 16, fontFamily: FONT, verticalAlign: 'middle'}},
  {type: 'text', z: 102, x: 123, y: 84, style: {text: 'Dualon2', fill: '#000', fontSize: 16, fontFamily: FONT, verticalAlign: 'middle'}}
];

chart.setOption({
  animation: false,
  backgroundColor: '#ffffff',
  textStyle: {fontFamily: FONT},
  grid: grids, xAxis: xAxes, yAxis: yAxes, series: series,
  graphic: {elements: legendGraphic}
});
</script></body></html>
